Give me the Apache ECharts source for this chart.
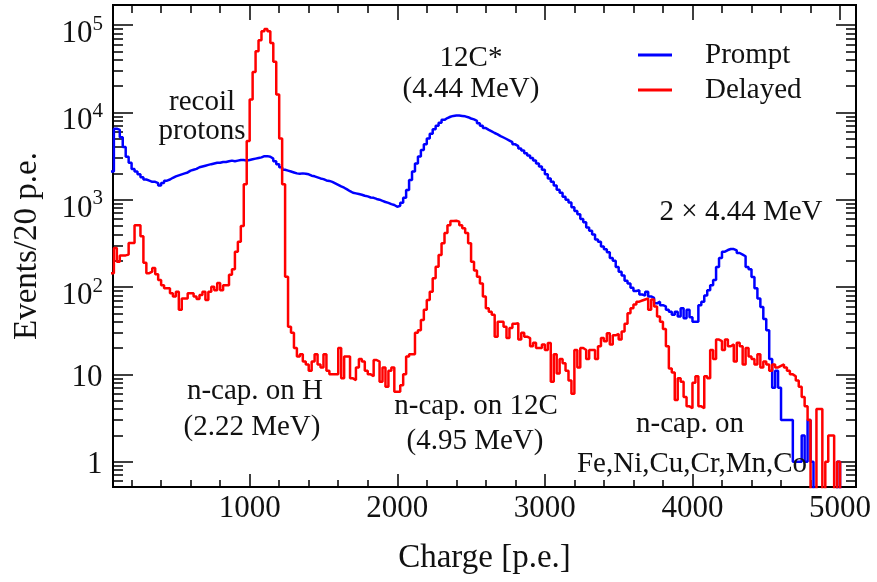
<!DOCTYPE html>
<html><head><meta charset="utf-8">
<script src="https://cdn.jsdelivr.net/npm/echarts/dist/echarts.min.js"></script>
<style>html,body{margin:0;padding:0;background:#fff}#c{width:877px;height:582px}</style>
</head><body><div id="c"></div>
<script>
// Histogram bins: lower edges start at binStart, width binWidth (p.e.)
const binStart = 60;
const binWidth = 20;

// Events / 20 p.e. — Prompt (blue)
const prompt = [
  2100,6500,6300,5200,4000,3100,2650,2250,2100,1950,
  1800,1700,1650,1600,1600,1550,1450,1550,1650,1700,
  1780,1850,1900,1950,2000,2050,2150,2200,2250,2350,
  2400,2450,2500,2550,2600,2650,2650,2700,2700,2750,
  2800,2750,2800,2850,2850,2800,2850,2900,2950,3000,
  3050,3150,3150,3100,2950,2750,2550,2350,2200,2150,
  2100,2050,2000,1980,2000,1980,1950,1880,1850,1800,
  1750,1720,1660,1640,1600,1540,1480,1420,1370,1310,
  1250,1200,1180,1160,1140,1110,1090,1060,1050,1020,
  1000,970,940,920,890,870,830,850,920,1050,
  1290,1680,2100,2600,3130,3700,4300,5000,5700,6400,
  7000,7600,8200,8600,8900,9100,9200,9200,9100,9000,
  8800,8500,8300,8000,7500,7000,6600,6300,6050,5800,
  5600,5350,5150,4950,4750,4550,4300,4100,3850,3650,
  3400,3200,3000,2800,2600,2400,2200,1950,1750,1600,
  1450,1300,1200,1080,1000,930,820,740,680,600,
  550,480,440,400,350,330,290,270,250,215,
  200,170,150,135,118,110,98,90,92,82,
  80,88,78,75,65,68,62,60,55,52,
  48,52,46,57,44,55,45,40,40,62,
  68,80,92,105,120,170,215,254,265,272,
  272,262,245,235,225,170,160,130,97,74,
  59,43,32,15,7,11,7,3,3,3,
  3,1,1,1,2,1,3,1,0,0,
  0,0,0,0,0,0,1,0,0,0,
  0,0
];

// Events / 20 p.e. — Delayed (red)
const delayed = [
  144,280,195,230,230,235,320,320,510,510,
  380,190,144,150,165,140,120,105,97,97,
  85,78,88,55,74,74,85,85,78,73,
  81,88,71,88,101,92,111,92,105,105,
  138,160,254,330,500,1500,4700,14000,29000,50000,
  67000,85000,90000,85000,62000,38000,16000,5000,1500,131,
  35,30,20,16,17,14,13,11,14,17,
  13,12,17,11,10,10,10,20,9,16,
  16,9,8.6,12,15,14,11,10,9.5,14.6,
  14,8.2,12,7.2,11,12,6.3,6.3,7.5,10,
  16,17,17,30,32,42,55,71,88,126,
  171,232,318,414,510,570,573,560,510,470,
  414,318,195,155,131,110,78,57,52,48,
  27,40,40,35,26,34,38,38.5,25,30,
  27,26,21,23,20,20,22,19,22.8,8.2,
  17,10.2,15,13.4,11,8.5,6,19,12,20,
  19,15,19,19,15,21,26,24,29.5,22,
  28,29,25,31,38,50,57,63,68,70,
  72,74,55,72,60,46,40,33,21,11.7,
  10.5,5.1,9,8.2,5.5,4.3,4.1,8,9.5,4.3,
  4.1,9.5,9,19,15,25,24,19,25,21,
  22,14,23,21,13,20,16,15,13,17,
  12,14,13,11,13,12,12.5,13,12,11,
  10,9.5,8.5,7.2,5.5,4.3,3,0,0,4,
  4,0,1,2,2,0,1,0,0,0,
  0,0
];

const seriesNames = ['Prompt', 'Delayed'];
const xMajorTicks = [1000, 2000, 3000, 4000, 5000];
const xMinorTicks = [200,400,600,800,1200,1400,1600,1800,2200,2400,2600,2800,3200,3400,3600,3800,4200,4400,4600,4800];
const yMajorTicks = [1, 10, 100, 1000, 10000, 100000];
const yMinorMantissas = [2,3,4,5,6,7,8,9];
const yDecades = [-1,0,1,2,3,4,5];

const xMin = 74, xMax = 5108;
const yMin = 0.513, yMax = 169400;
const FONT = 'Liberation Serif';
const INK = '#111';

const yMinorTicks = [];
yDecades.forEach(e => yMinorMantissas.forEach(m => yMinorTicks.push(+(m * Math.pow(10, e)).toPrecision(3))));

// zero-count bins sit below the visible range and are clipped at the frame
function histData(values) {
  const pts = values.map((v, i) => [binStart + i * binWidth, v > 0 ? v : 0.05]);
  const last = values[values.length - 1];
  pts.push([binStart + values.length * binWidth, last > 0 ? last : 0.05]);
  return pts;
}

function xAxisDef(pos, ticks, len, major) {
  return {
    type: 'value', min: xMin, max: xMax, position: pos,
    axisLine: { show: true, onZero: false, lineStyle: { color: '#000', width: 2 } },
    axisTick: { show: true, inside: true, length: len, customValues: ticks, lineStyle: { color: '#000', width: 1.5 } },
    axisLabel: (major && pos === 'bottom') ? {
      show: true, customValues: ticks, fontFamily: FONT, fontSize: 31, color: INK, margin: 6,
      formatter: function (v) { return String(Math.round(v)); }
    } : { show: false },
    splitLine: { show: false },
    name: (major && pos === 'bottom') ? 'Charge [p.e.]' : '',
    nameLocation: 'middle', nameGap: 55,
    nameTextStyle: { fontFamily: FONT, fontSize: 33, color: INK }
  };
}

function yAxisDef(pos, ticks, len, major) {
  const showLab = major && pos === 'left';
  return {
    type: 'log', logBase: 10, min: yMin, max: yMax, position: pos,
    axisLine: { show: true, onZero: false, lineStyle: { color: '#000', width: 2 } },
    axisTick: { show: true, inside: true, length: len, customValues: ticks, lineStyle: { color: '#000', width: 1.5 } },
    axisLabel: showLab ? {
      show: true, customValues: ticks, margin: 10,
      formatter: function (v) {
        const e = Math.round(Math.log10(v));
        if (e === 0) return '{b|1}{z| }';
        if (e === 1) return '{b|10}{z| }';
        return '{b|10}{s|' + e + '}';
      },
      rich: {
        b: { fontFamily: FONT, fontSize: 31, lineHeight: 31, verticalAlign: 'bottom', color: INK },
        s: { fontFamily: FONT, fontSize: 21, lineHeight: 49, verticalAlign: 'top', padding: [13, 0, 0, 0], color: INK },
        z: { fontFamily: FONT, fontSize: 2, lineHeight: 38, verticalAlign: 'top', color: INK }
      }
    } : { show: false },
    splitLine: { show: false },
    minorTick: { show: false },
    name: showLab ? 'Events/20 p.e.' : '',
    nameLocation: 'middle', nameGap: 69, nameRotate: 90,
    nameTextStyle: { fontFamily: FONT, fontSize: 33, color: INK }
  };
}

function note(text, x, y) {
  return { type: 'text', x: x, y: y, z: 100,
    style: { text: text, fontFamily: FONT, fontSize: 29, fill: INK, align: 'center', verticalAlign: 'middle' } };
}

const chart = echarts.init(document.getElementById('c'), null, { renderer: 'canvas' });
chart.setOption({
  animation: false,
  backgroundColor: '#fff',
  grid: { left: 113, top: 5, width: 743, height: 482, containLabel: false },
  xAxis: [
    xAxisDef('bottom', xMajorTicks, 13, true),
    xAxisDef('bottom', xMinorTicks, 7, false),
    xAxisDef('top', xMajorTicks, 15, true),
    xAxisDef('top', xMinorTicks, 8, false)
  ],
  yAxis: [
    yAxisDef('left', yMajorTicks, 20, true),
    yAxisDef('left', yMinorTicks, 10, false),
    yAxisDef('right', yMajorTicks, 20, true),
    yAxisDef('right', yMinorTicks, 10, false)
  ],
  legend: {
    data: seriesNames, orient: 'vertical', left: 633, top: 35,
    icon: 'rect', itemWidth: 34, itemHeight: 3, itemGap: 5,
    textStyle: { fontFamily: FONT, fontSize: 29, color: INK, lineHeight: 30, padding: [0, 0, 0, 28] }
  },
  series: [
    { name: seriesNames[0], type: 'line', step: 'end', symbol: 'none', clip: true,
      xAxisIndex: 0, yAxisIndex: 0, color: '#0000ff',
      lineStyle: { color: '#0000ff', width: 2.5 }, data: histData(prompt) },
    { name: seriesNames[1], type: 'line', step: 'end', symbol: 'none', clip: true,
      xAxisIndex: 0, yAxisIndex: 0, color: '#ff0000',
      lineStyle: { color: '#ff0000', width: 2.5 }, data: histData(delayed) }
  ],
  graphic: [
    note('recoil', 202, 102),
    note('protons', 202, 131),
    note('12C*', 471, 58),
    note('(4.44 MeV)', 471, 89),
    note('2 \u00d7 4.44 MeV', 741, 212),
    note('n-cap. on H', 255, 391),
    note('(2.22 MeV)', 252, 427),
    note('n-cap. on 12C', 476, 406),
    note('(4.95 MeV)', 475, 441),
    note('n-cap. on', 690, 424),
    note('Fe,Ni,Cu,Cr,Mn,Co', 692, 464)
  ]
});
</script></body></html>
